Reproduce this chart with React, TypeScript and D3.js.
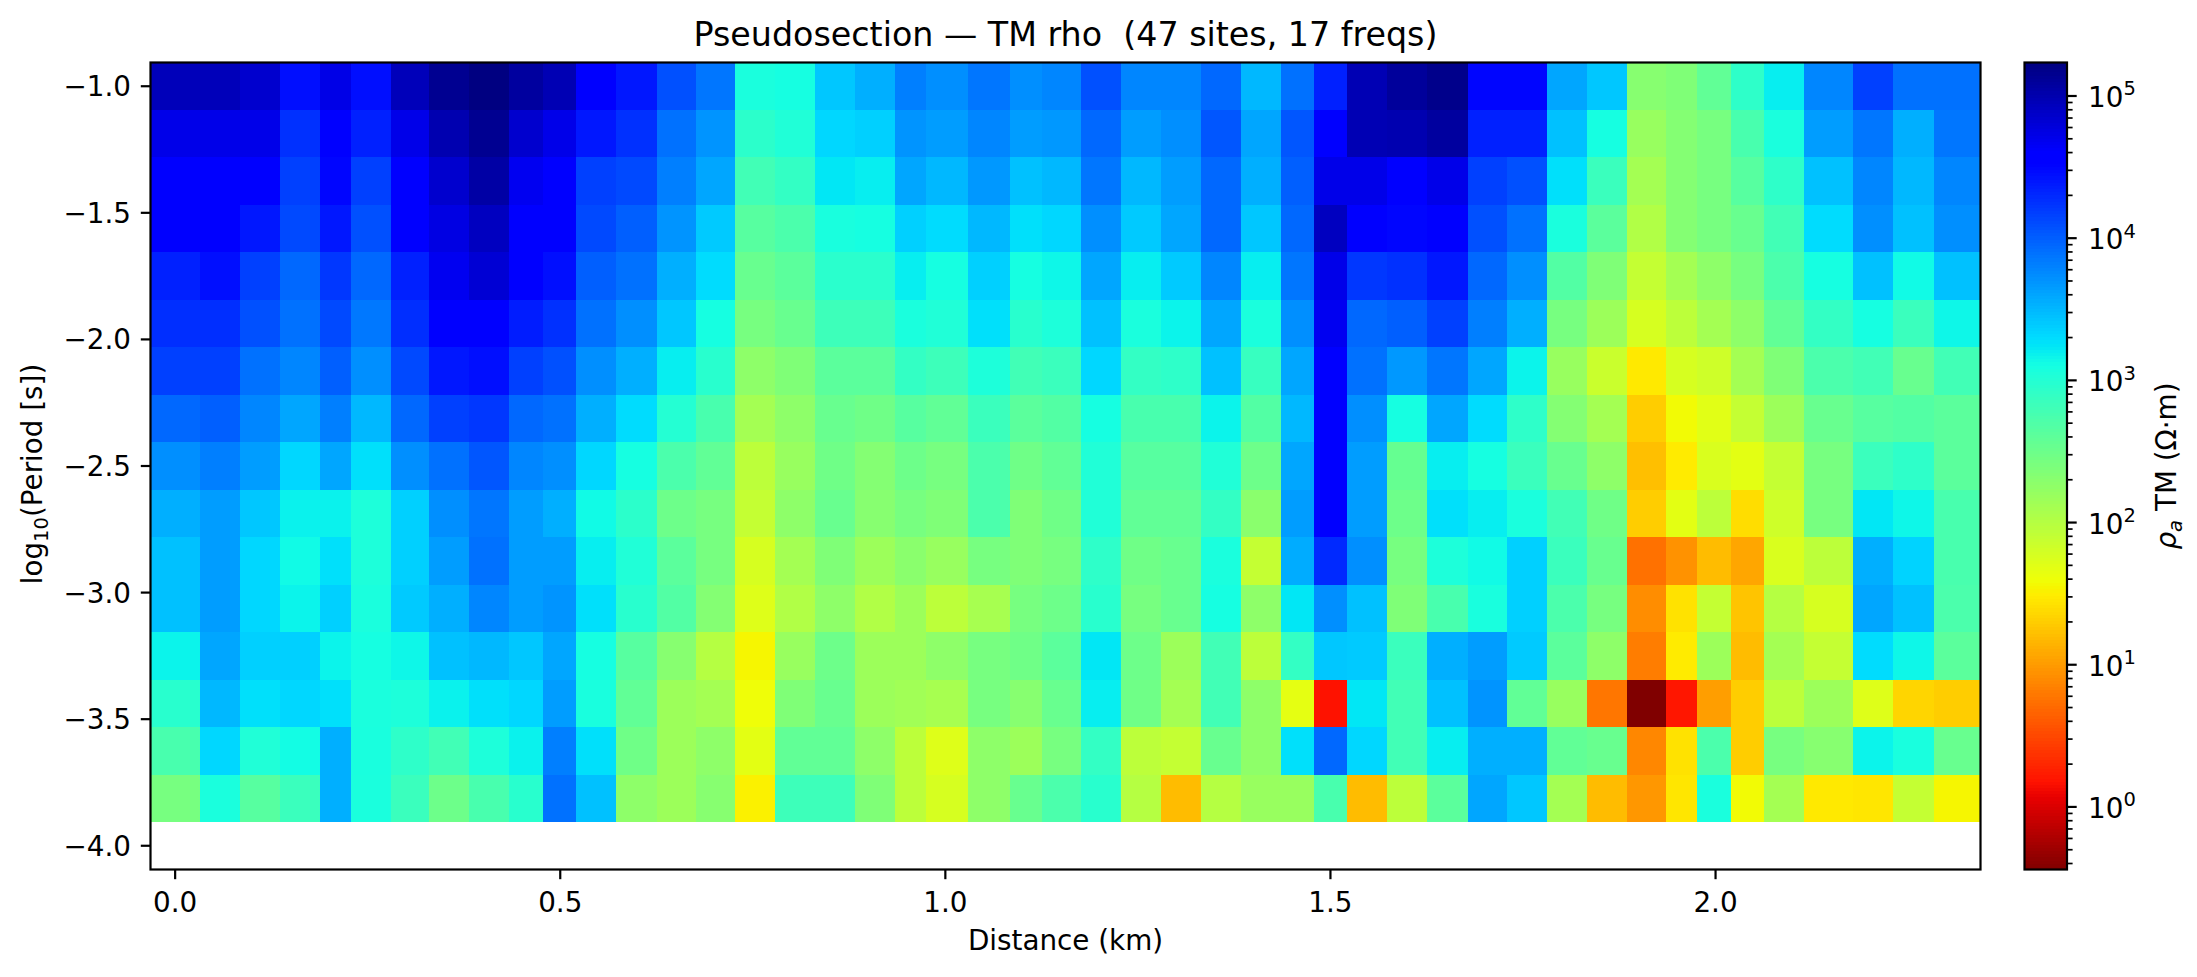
import React from "react";
import * as d3 from "d3";

// Cell boundaries along the profile (km); 47 sites give 48 edges.
const siteEdgesKm = [
  -0.032, 0.032, 0.084, 0.136, 0.188, 0.228, 0.28, 0.33, 0.382, 0.434, 0.478, 0.521,
  0.573, 0.625, 0.676, 0.727, 0.779, 0.831, 0.883, 0.935, 0.975, 1.03, 1.084, 1.125,
  1.176, 1.228, 1.28, 1.332, 1.384, 1.436, 1.479, 1.522, 1.574, 1.626, 1.678, 1.729,
  1.781, 1.833, 1.885, 1.936, 1.976, 2.02, 2.063, 2.115, 2.179, 2.231, 2.283, 2.344,
];

// log10(period) at the centre of each of the 17 frequency rows.
const logPeriods = [
  -1.0, -1.1875, -1.375, -1.5625, -1.75, -1.9375, -2.125, -2.3125, -2.5, -2.6875,
  -2.875, -3.0625, -3.25, -3.4375, -3.625, -3.8125, -4.0,
];

// log10(apparent resistivity), one list per frequency row.
const rowP00 = [4.95,4.95,4.85,4.45,4.73,4.45,4.95,5.15,5.23,5.08,4.98,4.55,4.4,4.08,3.87,3.07,3.1,3.42,3.55,3.82,3.73,3.87,3.73,3.78,4.08,3.78,3.78,3.95,3.5,3.9,4.35,4.98,5.1,5.18,4.5,4.5,3.6,3.42,2.32,2.37,2.58,2.93,3.2,3.78,4.17,3.9,3.9];
const rowP01 = [4.72,4.72,4.72,4.26,4.55,4.35,4.72,5.0,5.15,4.85,4.72,4.4,4.26,3.9,3.7,2.95,3.03,3.33,3.37,3.7,3.65,3.78,3.65,3.68,3.95,3.65,3.73,4.05,3.6,4.05,4.55,4.98,5.0,5.08,4.35,4.35,3.45,3.1,2.2,2.34,2.43,2.75,3.07,3.65,3.87,3.55,3.87];
const rowP02 = [4.58,4.58,4.58,4.17,4.5,4.17,4.55,4.85,5.05,4.68,4.55,4.17,4.12,3.82,3.6,2.8,2.9,3.24,3.2,3.6,3.5,3.68,3.45,3.5,3.87,3.5,3.65,3.95,3.55,4.0,4.72,4.72,4.6,4.72,4.17,4.08,3.28,2.85,2.12,2.34,2.43,2.65,2.93,3.45,3.78,3.5,3.78];
const rowP03 = [4.55,4.55,4.4,4.12,4.4,4.08,4.55,4.75,4.92,4.6,4.55,4.12,4.0,3.7,3.4,2.65,2.73,3.08,3.1,3.37,3.3,3.5,3.28,3.33,3.73,3.4,3.6,3.95,3.42,3.95,4.92,4.55,4.5,4.55,4.08,3.9,3.07,2.62,2.03,2.34,2.43,2.53,2.8,3.3,3.73,3.45,3.73];
const rowP04 = [4.35,4.45,4.17,3.95,4.22,3.95,4.35,4.68,4.82,4.55,4.45,4.0,3.9,3.55,3.3,2.53,2.62,2.96,2.96,3.2,3.1,3.37,3.1,3.15,3.6,3.2,3.4,3.78,3.2,3.87,4.72,4.22,4.26,4.4,3.95,3.73,2.68,2.37,1.9,2.12,2.27,2.43,2.73,3.1,3.45,3.13,3.45];
const rowP05 = [4.27,4.27,4.08,3.9,4.12,3.86,4.27,4.55,4.55,4.37,4.26,3.9,3.73,3.42,3.1,2.43,2.53,2.83,2.83,3.07,3.03,3.28,2.97,3.05,3.45,3.07,3.17,3.6,3.07,3.73,4.68,3.95,4.0,4.17,3.82,3.55,2.43,2.17,1.77,1.95,2.12,2.27,2.58,2.9,3.1,2.85,3.15];
const rowP06 = [4.17,4.17,3.9,3.78,4.0,3.73,4.12,4.4,4.45,4.17,4.08,3.73,3.55,3.2,2.97,2.27,2.37,2.62,2.62,2.9,2.83,3.05,2.8,2.85,3.33,2.9,2.93,3.45,2.87,3.6,4.55,3.9,3.68,3.87,3.6,3.17,2.2,1.86,1.47,1.77,1.83,2.12,2.37,2.73,2.8,2.53,2.8];
const rowP07 = [3.95,4.0,3.78,3.6,3.82,3.5,3.95,4.17,4.22,3.95,3.9,3.55,3.3,3.0,2.75,2.12,2.27,2.53,2.48,2.65,2.58,2.85,2.62,2.68,3.1,2.75,2.75,3.17,2.68,3.5,4.55,3.73,3.1,3.6,3.3,2.93,2.34,2.12,1.3,1.58,1.7,1.9,2.17,2.53,2.65,2.68,2.62];
const rowP08 = [3.73,3.82,3.65,3.33,3.6,3.28,3.73,3.9,4.05,3.78,3.73,3.33,3.1,2.73,2.58,1.95,2.2,2.48,2.34,2.5,2.43,2.73,2.48,2.58,3.03,2.65,2.65,3.03,2.5,3.6,4.55,3.65,2.55,3.2,3.1,2.85,2.53,2.27,1.22,1.48,1.75,1.68,1.9,2.43,2.85,2.93,2.62];
const rowP09 = [3.55,3.65,3.42,3.18,3.18,3.05,3.37,3.73,3.87,3.65,3.55,3.13,2.95,2.5,2.43,1.9,2.27,2.53,2.32,2.43,2.37,2.73,2.37,2.48,3.03,2.58,2.58,2.9,2.3,3.65,4.55,3.65,2.5,3.28,3.2,3.07,2.8,2.48,1.3,1.68,1.95,1.4,1.83,2.43,3.24,3.15,2.75];
const rowP10 = [3.45,3.65,3.33,3.13,3.28,3.05,3.37,3.65,3.9,3.65,3.65,3.2,3.03,2.62,2.43,1.77,2.12,2.37,2.17,2.3,2.2,2.43,2.37,2.43,2.93,2.48,2.53,3.07,1.9,3.57,4.3,3.73,2.43,3.05,3.13,3.37,2.85,2.53,0.75,0.95,1.2,1.07,1.75,1.95,3.55,3.35,2.75];
const rowP11 = [3.45,3.65,3.33,3.17,3.37,3.07,3.4,3.55,3.78,3.65,3.7,3.28,2.97,2.68,2.34,1.72,2.03,2.27,2.03,2.17,1.95,2.1,2.43,2.5,2.97,2.43,2.53,3.1,2.27,3.24,3.73,3.45,2.37,2.75,3.08,3.37,2.73,2.43,0.92,1.43,1.9,1.25,2.0,1.77,3.6,3.45,2.73];
const rowP12 = [3.17,3.6,3.37,3.37,3.17,3.1,3.15,3.45,3.5,3.42,3.6,3.1,2.65,2.32,2.0,1.55,2.2,2.5,2.17,2.17,2.27,2.43,2.48,2.62,3.24,2.5,2.17,2.8,1.95,2.9,3.42,3.4,2.85,3.55,3.65,3.4,2.62,2.27,0.82,1.48,2.17,1.2,2.12,1.9,3.3,3.15,2.62];
const rowP13 = [2.97,3.5,3.28,3.33,3.28,3.07,3.05,3.18,3.28,3.33,3.65,3.08,2.58,2.17,2.12,1.6,2.37,2.53,2.17,2.14,2.1,2.43,2.32,2.53,3.2,2.48,2.12,2.8,2.27,1.67,0.18,3.24,2.8,3.45,3.7,2.58,2.2,0.78,-0.44,0.2,1.02,1.3,1.95,2.17,1.72,1.35,1.3];
const rowP14 = [2.75,3.33,3.03,3.12,3.55,3.08,2.93,2.8,3.05,3.18,3.82,3.28,2.48,2.17,2.27,1.68,2.58,2.58,2.27,1.95,1.72,2.27,2.17,2.43,2.9,1.95,1.9,2.53,2.27,3.28,3.95,3.33,2.8,3.2,3.55,3.55,2.58,2.53,0.88,1.43,2.73,1.3,2.43,2.32,3.17,3.08,2.53];
const rowP15 = [2.43,3.07,2.65,2.85,3.55,3.07,2.85,2.5,2.75,2.97,3.9,3.45,2.27,2.17,2.32,1.52,2.83,2.83,2.37,1.95,1.77,2.27,2.53,2.73,2.97,2.0,1.2,2.0,2.2,2.2,2.75,1.2,1.95,2.62,3.6,3.42,2.12,1.2,0.98,1.45,3.07,1.58,2.12,1.47,1.45,1.9,1.55];
// The longest-period row has no data.
const rows = [rowP00,rowP01,rowP02,rowP03,rowP04,rowP05,rowP06,rowP07,rowP08,rowP09,rowP10,rowP11,rowP12,rowP13,rowP14,rowP15];

const xTicks = [0, 0.5, 1, 1.5, 2];
const yTicks = [-1, -1.5, -2, -2.5, -3, -3.5, -4];
const cbDecades = [0, 1, 2, 3, 4, 5];
const rhoDomain: [number, number] = [0.363, 172000];
const xDomain: [number, number] = [-0.032, 2.344];
const yDomain: [number, number] = [-0.90625, -4.09375];

const FONT = "'DejaVu Sans', sans-serif";
const W = 2197, H = 977;
const plot = { left: 150.5, right: 1980.5, top: 62.5, bottom: 869.5 };
const cbar = { left: 2024.5, right: 2067, top: 62.5, bottom: 869.5 };

const jetR = d3.scaleLinear([0, 0.35, 0.66, 0.89, 1], [0, 0, 1, 1, 0.5]);
const jetG = d3.scaleLinear([0, 0.125, 0.375, 0.64, 0.91, 1], [0, 0, 1, 1, 0, 0]);
const jetB = d3.scaleLinear([0, 0.11, 0.34, 0.65, 1], [0.5, 1, 1, 0, 0]);
const jetReversed = (p: number) => {
  const t = 1 - Math.max(0, Math.min(1, p));
  return d3.rgb(jetR(t) * 255, jetG(t) * 255, jetB(t) * 255).formatRgb();
};

export default function App() {
  const x = d3.scaleLinear(xDomain, [plot.left, plot.right]);
  const y = d3.scaleLinear(yDomain, [plot.top, plot.bottom]);
  const rhoP = d3.scaleLog(rhoDomain, [0, 1]).clamp(true);
  const cbY = d3.scaleLog(rhoDomain, [cbar.bottom, cbar.top]);
  const rowEdge = (i: number) =>
    i === 0 ? yDomain[0] : i === logPeriods.length ? yDomain[1] : (logPeriods[i - 1] + logPeriods[i]) / 2;
  const minor = cbDecades
    .concat([-1])
    .flatMap((d) => d3.range(2, 10).map((m) => m * Math.pow(10, d)))
    .filter((v) => v >= rhoDomain[0] && v <= rhoDomain[1]);
  const steps = d3.range(256);
  const axisColor = "#000";
  const fs = 27.8;

  return (
    <svg width={W} height={H} viewBox={`0 0 ${W} ${H}`} style={{ position: "absolute", left: 0, top: 0, background: "#fff" }} fontFamily={FONT}>
      <g shapeRendering="crispEdges">
        {rows.map((row, r) =>
          row.map((v, c) => (
            <rect
              key={`${r}-${c}`}
              x={x(siteEdgesKm[c])}
              y={y(rowEdge(r))}
              width={x(siteEdgesKm[c + 1]) - x(siteEdgesKm[c])}
              height={y(rowEdge(r + 1)) - y(rowEdge(r))}
              fill={jetReversed(rhoP(Math.pow(10, v)))}
            />
          ))
        )}
      </g>
      <rect x={plot.left} y={plot.top} width={plot.right - plot.left} height={plot.bottom - plot.top} fill="none" stroke={axisColor} strokeWidth={2.2} />
      {xTicks.map((t) => (
        <g key={t}>
          <line x1={x(t)} x2={x(t)} y1={plot.bottom} y2={plot.bottom + 9.7} stroke={axisColor} strokeWidth={2.2} />
          <text x={x(t)} y={plot.bottom + 42} fontSize={fs} textAnchor="middle" fill="#000">{t.toFixed(1)}</text>
        </g>
      ))}
      {yTicks.map((t) => (
        <g key={t}>
          <line x1={plot.left - 9.7} x2={plot.left} y1={y(t)} y2={y(t)} stroke={axisColor} strokeWidth={2.2} />
          <text x={plot.left - 19.5} y={y(t) + 10} fontSize={fs} textAnchor="end" fill="#000">{"\u2212" + Math.abs(t).toFixed(1)}</text>
        </g>
      ))}
      <text x={(plot.left + plot.right) / 2} y={46} fontSize={33.3} textAnchor="middle" fill="#000" style={{ whiteSpace: "pre" }}>
        {"Pseudosection \u2014 TM rho  (47 sites, 17 freqs)"}
      </text>
      <text x={(plot.left + plot.right) / 2} y={950} fontSize={fs} textAnchor="middle" fill="#000">Distance (km)</text>
      <text transform={`translate(42,${(plot.top + plot.bottom) / 2 + 8}) rotate(-90)`} fontSize={fs} textAnchor="middle" fill="#000">
        log<tspan fontSize={19.5} dy={6}>10</tspan><tspan dy={-6}>(Period [s])</tspan>
      </text>

      <g shapeRendering="crispEdges">
        {steps.map((s) => {
          const y0 = cbar.bottom + ((cbar.top - cbar.bottom) * (s + 1)) / 256;
          const y1 = cbar.bottom + ((cbar.top - cbar.bottom) * s) / 256;
          return <rect key={s} x={cbar.left} y={y0} width={cbar.right - cbar.left} height={y1 - y0 + 0.5} fill={jetReversed((s + 0.5) / 256)} />;
        })}
      </g>
      <rect x={cbar.left} y={cbar.top} width={cbar.right - cbar.left} height={cbar.bottom - cbar.top} fill="none" stroke={axisColor} strokeWidth={2.2} />
      {minor.map((v) => (
        <line key={v} x1={cbar.right} x2={cbar.right + 5.6} y1={cbY(v)} y2={cbY(v)} stroke={axisColor} strokeWidth={1.7} />
      ))}
      {cbDecades.map((d) => {
        const yy = cbY(Math.pow(10, d));
        return (
          <g key={d}>
            <line x1={cbar.right} x2={cbar.right + 9.7} y1={yy} y2={yy} stroke={axisColor} strokeWidth={2.2} />
            <text x={cbar.right + 21} y={yy + 11} fontSize={fs} fill="#000">
              10<tspan fontSize={19.5} dy={-11.5}>{d}</tspan>
            </text>
          </g>
        );
      })}
      <text transform={`translate(2176,${(cbar.top + cbar.bottom) / 2}) rotate(-90)`} fontSize={fs} textAnchor="middle" fill="#000">
        <tspan fontStyle="italic">{"\u03C1"}</tspan>
        <tspan fontStyle="italic" fontSize={19.5} dy={6}>a</tspan>
        <tspan dy={-6}>{" TM (\u03A9\u00B7m)"}</tspan>
      </text>
    </svg>
  );
}
